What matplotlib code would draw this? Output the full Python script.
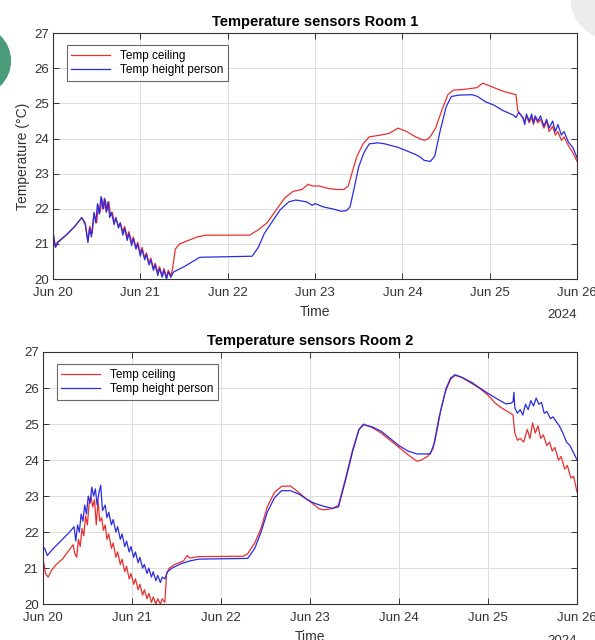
import numpy as np
import pandas as pd
import matplotlib
matplotlib.use("Agg")
import matplotlib.pyplot as plt
import matplotlib.dates as mdates
from matplotlib.patches import Ellipse

plt.rcParams['font.family'] = ['Liberation Sans', 'DejaVu Sans']

start = pd.Timestamp('2024-06-20')

# Room 1 - time in days from Jun 20, values in degC
r1_ceil_t = [0.00, 0.02, 0.05, 0.15, 0.25, 0.33, 0.37, 0.40, 0.42, 0.45, 0.47, 0.50, 0.52, 0.54, 0.56,
             0.58, 0.60, 0.62, 0.64, 0.66, 0.68, 0.70, 0.72, 0.75, 0.77, 0.80, 0.82, 0.85, 0.87, 0.90,
             0.92, 0.95, 0.97, 1.00, 1.02, 1.05, 1.07, 1.10, 1.12, 1.15, 1.17, 1.20, 1.22, 1.25, 1.27,
             1.30, 1.32, 1.35, 1.37, 1.40, 1.45, 1.55, 1.65, 1.75, 2.25, 2.35, 2.45, 2.55, 2.65, 2.75,
             2.85, 2.92, 2.97, 3.05, 3.15, 3.25, 3.33, 3.38, 3.42, 3.48, 3.55, 3.62, 3.75, 3.85, 3.95,
             4.05, 4.15, 4.25, 4.30, 4.33, 4.38, 4.45, 4.52, 4.58, 4.70, 4.85, 4.92, 5.00, 5.15, 5.30,
             5.32, 5.36, 5.40, 5.42, 5.45, 5.48, 5.50, 5.52, 5.55, 5.58, 5.62, 5.65, 5.68, 5.72, 5.75,
             5.78, 5.82, 5.85, 5.90, 5.95, 6.00]
r1_ceil_v = [21.35, 20.95, 21.05, 21.25, 21.5, 21.75, 21.6, 21.05, 21.5, 21.3, 21.85, 21.6, 22.1, 21.9, 22.3,
             22.0, 22.25, 21.95, 22.2, 21.8, 21.9, 21.6, 21.75, 21.5, 21.6, 21.35, 21.5, 21.2, 21.35, 21.05,
             21.2, 20.9, 21.05, 20.75, 20.9, 20.6, 20.75, 20.45, 20.6, 20.3, 20.45, 20.2, 20.35, 20.1, 20.3,
             20.05, 20.25, 20.1, 20.3, 20.85, 21.0, 21.1, 21.2, 21.25, 21.25, 21.4, 21.6, 21.95, 22.3, 22.5,
             22.55, 22.7, 22.65, 22.65, 22.58, 22.55, 22.55, 22.65, 23.0, 23.5, 23.85, 24.05, 24.1, 24.15, 24.3,
             24.2, 24.05, 23.95, 24.0, 24.1, 24.3, 24.8, 25.25, 25.38, 25.4, 25.45, 25.58, 25.5, 25.35, 25.25,
             24.8, 24.65, 24.5, 24.65, 24.45, 24.6, 24.4, 24.6, 24.45, 24.55, 24.3, 24.5, 24.2, 24.35, 24.1,
             24.2, 23.95, 24.05, 23.8, 23.6, 23.35]

r1_pers_t = [0.00, 0.01, 0.03, 0.06, 0.15, 0.25, 0.33, 0.37, 0.40, 0.42, 0.44, 0.47, 0.49, 0.51, 0.53,
             0.55, 0.57, 0.59, 0.61, 0.63, 0.65, 0.67, 0.70, 0.72, 0.75, 0.77, 0.80, 0.82, 0.85, 0.87,
             0.90, 0.92, 0.95, 0.97, 1.00, 1.02, 1.05, 1.07, 1.10, 1.12, 1.15, 1.17, 1.20, 1.22, 1.25,
             1.27, 1.30, 1.32, 1.35, 1.38, 1.42, 1.50, 1.60, 1.68, 2.28, 2.35, 2.42, 2.50, 2.60, 2.70,
             2.78, 2.90, 2.97, 3.00, 3.10, 3.20, 3.30, 3.36, 3.40, 3.44, 3.50, 3.56, 3.62, 3.72, 3.80,
             3.95, 4.05, 4.15, 4.20, 4.25, 4.32, 4.37, 4.43, 4.50, 4.56, 4.65, 4.80, 4.86, 4.95, 5.05,
             5.15, 5.27, 5.30, 5.33, 5.38, 5.40, 5.42, 5.45, 5.48, 5.50, 5.52, 5.55, 5.58, 5.62, 5.65,
             5.68, 5.72, 5.75, 5.78, 5.82, 5.85, 5.90, 5.95, 6.00]
r1_pers_v = [21.4, 21.2, 20.9, 21.05, 21.25, 21.5, 21.75, 21.55, 21.05, 21.45, 21.2, 21.9, 21.6, 22.15, 21.85,
             22.35, 22.0, 22.3, 21.9, 22.2, 21.75, 21.9, 21.55, 21.75, 21.45, 21.6, 21.25, 21.45, 21.1, 21.3,
             20.95, 21.15, 20.85, 21.0, 20.65, 20.85, 20.55, 20.7, 20.4, 20.55, 20.25, 20.4, 20.1, 20.3, 20.05,
             20.25, 20.0, 20.2, 20.05, 20.2, 20.25, 20.35, 20.5, 20.62, 20.65, 20.9, 21.3, 21.6, 21.97, 22.2,
             22.25, 22.2, 22.1, 22.15, 22.05, 22.0, 21.93, 21.95, 22.05, 22.5, 23.2, 23.6, 23.85, 23.88, 23.85,
             23.75, 23.65, 23.55, 23.48, 23.38, 23.35, 23.5, 24.2, 24.9, 25.2, 25.24, 25.25, 25.2, 25.05, 24.95,
             24.8, 24.67, 24.6, 24.75, 24.6, 24.4, 24.7, 24.5, 24.7, 24.45, 24.65, 24.5, 24.65, 24.35, 24.55,
             24.3, 24.5, 24.2, 24.4, 24.1, 24.2, 23.9, 23.75, 23.45]

# Room 2
r2_ceil_t = [0.00, 0.01, 0.03, 0.06, 0.10, 0.15, 0.22, 0.28, 0.34, 0.36, 0.38, 0.40, 0.42, 0.44, 0.46,
             0.48, 0.50, 0.52, 0.54, 0.56, 0.58, 0.60, 0.62, 0.64, 0.66, 0.68, 0.70, 0.72, 0.74, 0.77,
             0.79, 0.82, 0.84, 0.87, 0.89, 0.92, 0.94, 0.97, 0.99, 1.02, 1.04, 1.07, 1.09, 1.12, 1.14,
             1.17, 1.19, 1.22, 1.24, 1.27, 1.29, 1.32, 1.34, 1.37, 1.39, 1.42, 1.48, 1.58, 1.62, 1.65,
             1.75, 2.25, 2.30, 2.38, 2.45, 2.52, 2.60, 2.68, 2.78, 2.85, 2.92, 3.00, 3.05, 3.10, 3.15,
             3.25, 3.32, 3.40, 3.48, 3.55, 3.60, 3.70, 3.80, 3.90, 4.00, 4.10, 4.20, 4.25, 4.32, 4.38,
             4.45, 4.52, 4.58, 4.63, 4.70, 4.80, 4.90, 5.00, 5.08, 5.15, 5.25, 5.28, 5.30, 5.33, 5.36,
             5.40, 5.44, 5.47, 5.50, 5.53, 5.56, 5.59, 5.62, 5.66, 5.69, 5.72, 5.75, 5.79, 5.82, 5.86,
             5.89, 5.93, 5.96, 6.00]
r2_ceil_v = [21.1, 21.15, 20.85, 20.75, 20.95, 21.1, 21.25, 21.45, 21.65, 21.4, 21.3, 21.8, 21.6, 22.1, 21.9,
             22.45, 22.2, 22.8, 23.0, 22.7, 22.9, 22.2, 22.85, 22.3, 22.4, 22.05, 22.2, 21.8, 21.95, 21.55,
             21.7, 21.3, 21.45, 21.1, 21.25, 20.9, 21.05, 20.7, 20.85, 20.55, 20.7, 20.4, 20.55, 20.25, 20.4,
             20.15, 20.3, 20.05, 20.2, 20.0, 20.15, 20.0, 20.15, 20.05, 20.85, 21.0, 21.1, 21.2, 21.35, 21.28,
             21.32, 21.33, 21.4, 21.7, 22.1, 22.7, 23.1, 23.27, 23.28, 23.15, 23.0, 22.85, 22.75, 22.65, 22.62,
             22.65, 22.75, 23.5, 24.3, 24.85, 25.0, 24.9, 24.75, 24.55, 24.35, 24.15, 23.97, 24.0, 24.1, 24.3,
             25.2, 25.9, 26.25, 26.35, 26.3, 26.15, 26.0, 25.8, 25.58, 25.45, 25.3, 25.25, 24.75, 24.55, 24.6,
             24.5, 24.85, 24.6, 25.03, 24.75, 24.95, 24.6, 24.7, 24.4, 24.5, 24.25, 24.35, 24.0, 24.1, 23.75,
             23.85, 23.5, 23.55, 23.1]

r2_pers_t = [0.00, 0.02, 0.05, 0.10, 0.18, 0.24, 0.30, 0.35, 0.37, 0.39, 0.41, 0.43, 0.45, 0.47, 0.49,
             0.51, 0.53, 0.55, 0.57, 0.59, 0.61, 0.63, 0.65, 0.67, 0.70, 0.72, 0.74, 0.77, 0.79, 0.82,
             0.84, 0.87, 0.89, 0.92, 0.94, 0.97, 0.99, 1.02, 1.04, 1.07, 1.09, 1.12, 1.14, 1.17, 1.19,
             1.22, 1.24, 1.27, 1.29, 1.32, 1.34, 1.37, 1.40, 1.45, 1.55, 1.65, 1.75, 2.30, 2.38, 2.45,
             2.52, 2.60, 2.68, 2.78, 2.88, 2.97, 3.05, 3.15, 3.25, 3.32, 3.40, 3.48, 3.55, 3.60, 3.70,
             3.80, 3.90, 4.00, 4.10, 4.20, 4.35, 4.40, 4.47, 4.53, 4.58, 4.63, 4.72, 4.82, 4.92, 5.00,
             5.10, 5.20, 5.26, 5.28, 5.29, 5.30, 5.33, 5.36, 5.39, 5.42, 5.45, 5.48, 5.51, 5.54, 5.57,
             5.60, 5.63, 5.66, 5.70, 5.73, 5.77, 5.80, 5.84, 5.88, 5.92, 5.96, 6.00]
r2_pers_v = [21.6, 21.55, 21.35, 21.5, 21.7, 21.85, 22.0, 22.15, 21.75, 22.2, 22.0, 22.5, 22.3, 22.75, 22.5,
             23.0, 22.8, 23.25, 23.0, 23.2, 22.75, 23.1, 23.3, 22.6, 22.75, 22.4, 22.55, 22.2, 22.35, 22.0,
             22.15, 21.8, 21.95, 21.6, 21.75, 21.45, 21.6, 21.3, 21.45, 21.15, 21.3, 21.0, 21.1, 20.85, 21.0,
             20.75, 20.9, 20.65, 20.8, 20.6, 20.75, 20.7, 20.9, 21.0, 21.12, 21.2, 21.25, 21.27, 21.55, 22.0,
             22.55, 22.95, 23.15, 23.15, 23.05, 22.9, 22.8, 22.72, 22.66, 22.7, 23.45, 24.25, 24.85, 24.98, 24.92,
             24.8, 24.6, 24.4, 24.25, 24.17, 24.17, 24.5, 25.4, 26.0, 26.28, 26.37, 26.28, 26.15, 25.98, 25.85,
             25.7, 25.56, 25.58, 25.62, 25.88, 25.45, 25.3, 25.4, 25.25, 25.55, 25.4, 25.65, 25.5, 25.72, 25.55,
             25.6, 25.3, 25.35, 25.15, 25.2, 25.05, 24.95, 24.75, 24.5, 24.4, 24.2, 24.0]

day_ticks = [0, 1, 2, 3, 4, 5, 6]
y_ticks = [20, 21, 22, 23, 24, 25, 26, 27]


def to_time(days):
    return start + pd.to_timedelta(np.array(days), unit='D')


fig = plt.figure(figsize=(5.95, 6.4), dpi=100)

# decorations around the screenshot
fig.patches.append(Ellipse((-0.04, 0.905), 0.115, 0.107, transform=fig.transFigure,
                           color='#4a9c78', zorder=5))
fig.patches.append(Ellipse((1.06, 1.0), 0.2, 0.14, transform=fig.transFigure,
                           color='#ececec', zorder=0))

ax1 = fig.add_axes([0.089, 0.564, 0.881, 0.384])
ax2 = fig.add_axes([0.072, 0.056, 0.898, 0.394])

panels = [
    (ax1, 'Temperature sensors Room 1', r1_ceil_t, r1_ceil_v, r1_pers_t, r1_pers_v),
    (ax2, 'Temperature sensors Room 2', r2_ceil_t, r2_ceil_v, r2_pers_t, r2_pers_v),
]

for ax, title, ct, cv, pt, pv in panels:
    ax.plot(to_time(ct), cv, color='#e8302e', lw=0.9, label='Temp ceiling')
    ax.plot(to_time(pt), pv, color='#2b2be0', lw=0.9, label='Temp height person')
    ax.set_xlim(start, start + pd.Timedelta(days=6))
    ax.set_ylim(20, 27)
    ax.set_xticks(to_time(day_ticks))
    ax.xaxis.set_major_formatter(mdates.DateFormatter('%b %d'))
    ax.set_yticks(y_ticks)
    ax.grid(True, color='#dcdcdc', lw=0.7)
    ax.set_axisbelow(True)
    ax.tick_params(direction='in', top=True, right=True, labelsize=9.5,
                   colors='#333333', length=4, width=0.7, pad=3)
    ax.tick_params(axis='x', pad=6)
    for s in ax.spines.values():
        s.set_color('#333333')
        s.set_linewidth(0.8)
    ax.set_title(title, fontsize=10.5, fontweight='bold', pad=5)
    ax.set_xlabel('Time', fontsize=10, color='#333333', labelpad=4)
    ax.text(1.0, -0.145, '2024', transform=ax.transAxes, ha='right', va='center',
            fontsize=9.5, color='#333333')
    leg = ax.legend(loc='upper left', fontsize=8.5, frameon=True, fancybox=False,
                    handlelength=3.3, borderpad=0.4, labelspacing=0.2,
                    bbox_to_anchor=(0.015, 0.975))
    leg.get_frame().set_edgecolor('#444444')
    leg.get_frame().set_linewidth(0.8)

ax1.set_ylabel('Temperature (°C)', fontsize=10, color='#333333', labelpad=3)

fig.savefig('out.png', dpi=100)
